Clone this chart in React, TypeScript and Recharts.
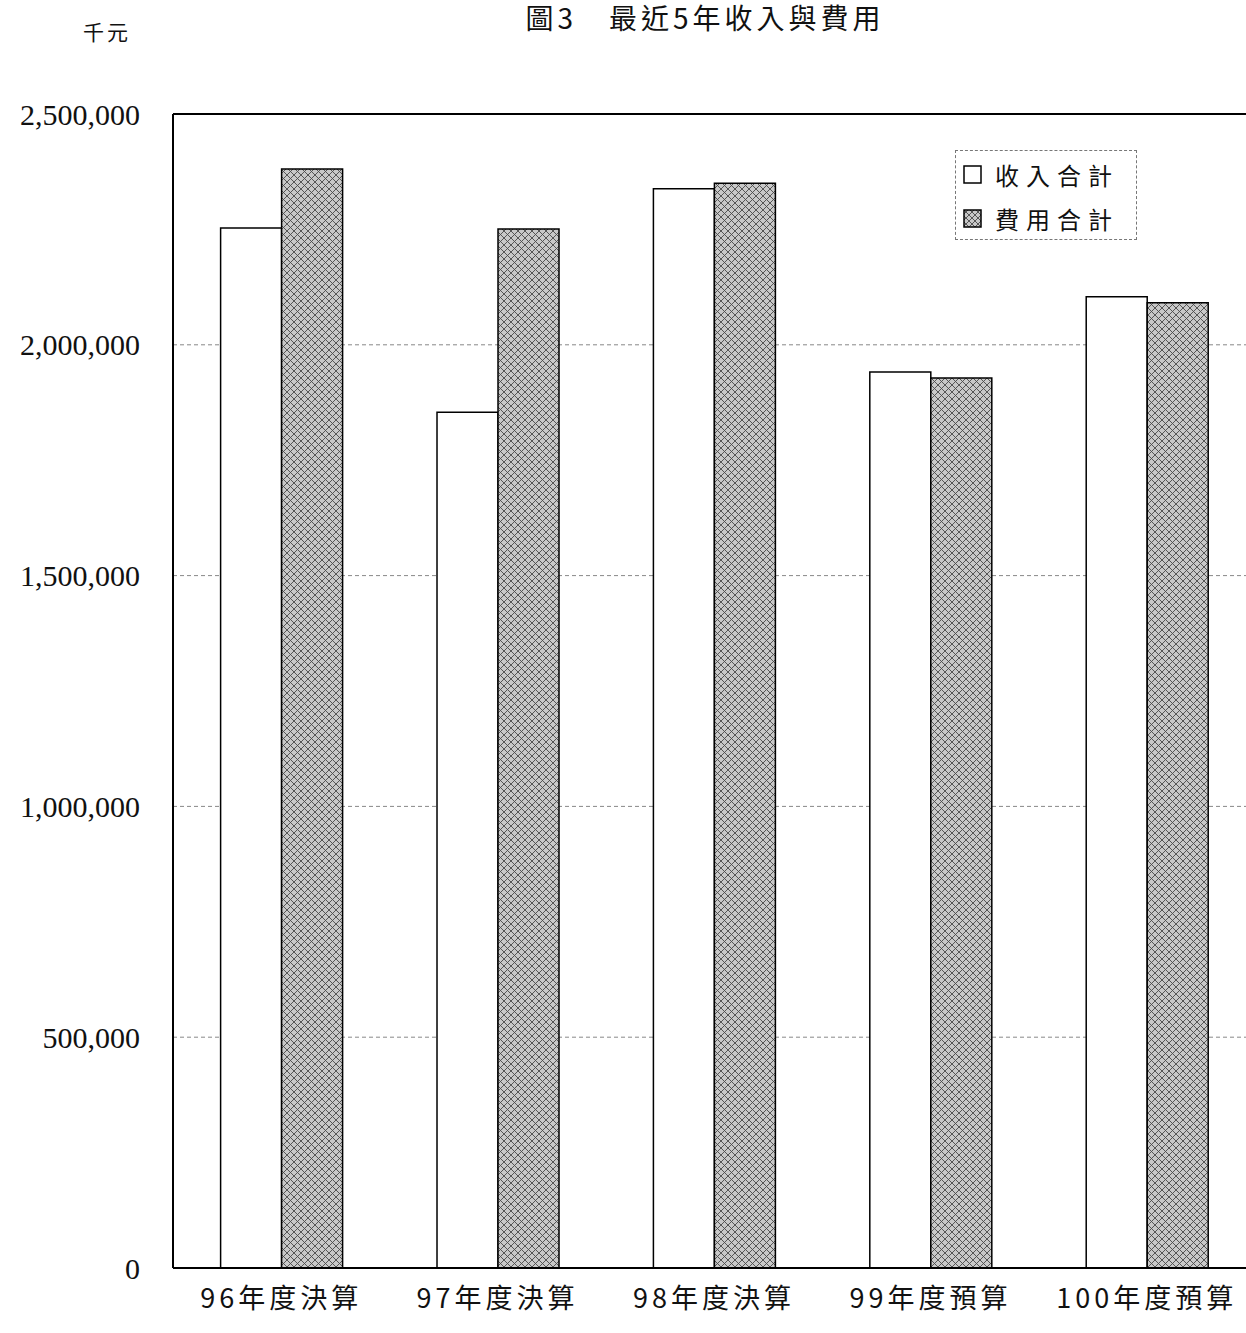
import { BarChart, Bar, XAxis, YAxis, CartesianGrid, ReferenceLine } from 'recharts';

const categories = ['96年度決算', '97年度決算', '98年度決算', '99年度預算', '100年度預算'];
const revenue = [2253000, 1854000, 2338000, 1941000, 2104000];
const expense = [2381000, 2251000, 2350000, 1928000, 2091000];
const yTicks = [0, 500000, 1000000, 1500000, 2000000, 2500000];
const seriesNames = ['收入合計', '費用合計'];

const data = categories.map((name, i) => ({ name, revenue: revenue[i], expense: expense[i] }));

const cjk = '"Noto Sans CJK TC", sans-serif';

function Swatch({ hatched }: { hatched: boolean }) {
  return (
    <svg width={19} height={19} style={{ display: 'block' }}>
      <defs>
        <pattern id="hatchLegend" width={6} height={6} patternUnits="userSpaceOnUse">
          <rect width={6} height={6} fill="#c8c8c8" />
          <path d="M0,0 L6,6 M6,0 L0,6" stroke="#4a4a4a" strokeWidth={0.9} />
        </pattern>
      </defs>
      <rect
        x={1}
        y={1}
        width={17}
        height={17}
        fill={hatched ? 'url(#hatchLegend)' : '#fff'}
        stroke="#000"
        strokeWidth={1.5}
      />
    </svg>
  );
}

function LegendBox() {
  return (
    <div
      style={{
        position: 'absolute',
        left: 955,
        top: 150,
        width: 182,
        height: 90,
        boxSizing: 'border-box',
        border: '1px dashed #777',
        background: '#fff',
        padding: '1px 0 0 7px',
        fontFamily: cjk,
        fontSize: 24,
        letterSpacing: 7,
        color: '#111',
      }}
    >
      {seriesNames.map((n, i) => (
        <div key={n} style={{ display: 'flex', alignItems: 'center', height: 44 }}>
          <Swatch hatched={i === 1} />
          <span style={{ marginLeft: 13 }}>{n}</span>
        </div>
      ))}
    </div>
  );
}

export default function App() {
  return (
    <div style={{ position: 'relative', width: 1246, height: 1333, overflow: 'hidden', background: '#fff' }}>
      <style>{'body{margin:0}'}</style>
      <BarChart
        width={1260}
        height={1333}
        data={data}
        margin={{ top: 114, right: 5, left: 0, bottom: 0 }}
        barCategoryGap="22%"
        barGap={0}
      >
        <defs>
          <pattern id="hatch" width={7} height={7} patternUnits="userSpaceOnUse">
            <rect width={7} height={7} fill="#c8c8c8" />
            <path d="M0,0 L7,7 M7,0 L0,7" stroke="#4a4a4a" strokeWidth={0.9} />
          </pattern>
        </defs>
        <CartesianGrid vertical={false} stroke="#888" strokeDasharray="4 3" />
        <XAxis
          dataKey="name"
          axisLine={{ stroke: '#000', strokeWidth: 2 }}
          tickLine={false}
          tickSize={0}
          tickMargin={21}
          height={65}
          interval={0}
          tick={{ fill: '#111', fontSize: 27, fontFamily: cjk, letterSpacing: 4 }}
        />
        <YAxis
          domain={[0, 2500000]}
          ticks={yTicks}
          width={173}
          axisLine={{ stroke: '#000', strokeWidth: 2 }}
          tickLine={false}
          tickSize={0}
          tickMargin={33}
          tickFormatter={(v: number) => v.toLocaleString('en-US')}
          tick={{ fill: '#111', fontSize: 30, fontFamily: '"Liberation Serif", serif' }}
        />
        <ReferenceLine y={2500000} stroke="#000" strokeWidth={2} />
        <Bar dataKey="revenue" name={seriesNames[0]} fill="#fff" stroke="#000" strokeWidth={1.5} isAnimationActive={false} />
        <Bar dataKey="expense" name={seriesNames[1]} fill="url(#hatch)" stroke="#000" strokeWidth={1.5} isAnimationActive={false} />
      </BarChart>
      <div
        style={{
          position: 'absolute',
          left: 0,
          width: 1246,
          boxSizing: 'border-box',
          paddingLeft: 164,
          top: 2,
          textAlign: 'center',
          fontFamily: cjk,
          fontSize: 28,
          lineHeight: '30px',
          letterSpacing: 4,
          color: '#111',
          whiteSpace: 'pre',
        }}
      >
        {'圖3　最近5年收入與費用'}
      </div>
      <div
        style={{
          position: 'absolute',
          left: 83,
          top: 16,
          fontFamily: cjk,
          fontSize: 21,
          letterSpacing: 3,
          color: '#111',
        }}
      >
        千元
      </div>
      <LegendBox />
    </div>
  );
}
